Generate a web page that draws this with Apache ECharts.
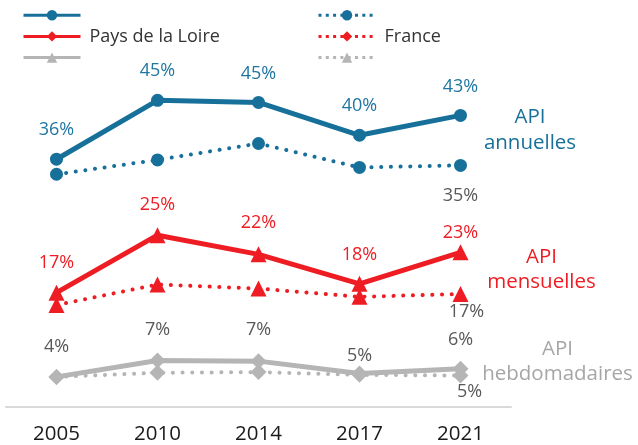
<!DOCTYPE html>
<html>
<head>
<meta charset="utf-8">
<script src="https://cdn.jsdelivr.net/npm/echarts@6/dist/echarts.min.js"></script>
<style>
    html, body { margin: 0; padding: 0; background: #fff; }
    #chart { width: 638px; height: 445px; }
</style>
</head>
<body>
<div id="chart"></div>
<script>
    const years = ['2005', '2010', '2014', '2017', '2021'];

    // Pays de la Loire (traits pleins)
    const pdlAnnuelles = [36.2, 44.8, 44.5, 39.7, 42.6];
    const pdlMensuelles = [16.7, 25.1, 22.3, 18.0, 22.6];
    const pdlHebdo = [4.4, 6.8, 6.7, 4.9, 5.6];

    // France (pointilles)
    const franceAnnuelles = [34.0, 36.1, 38.5, 35.0, 35.3];
    const franceMensuelles = [14.9, 17.9, 17.3, 16.1, 16.5];
    const franceHebdo = [4.4, 5.0, 5.1, 4.7, 4.6];

    const blue = '#17709a';
    const red = '#ee1d23';
    const grey = '#b5b5b5';
    const font = 'Open Sans';

    const legendText = {
        'PdL mensuelles': 'Pays de la Loire',
        'France mensuelles': 'France'
    };

    // decalage [x, y] de l'etiquette de chaque point, null = pas d'etiquette
    function makeData(values, symbol, offsets) {
        return values.map(function (v, i) {
            const item = { value: v, symbol: symbol };
            if (offsets[i]) {
                item.label = { show: true, offset: offsets[i] };
            }
            return item;
        });
    }

    function makeSeries(name, values, color, dotted, legendSymbol, pointSymbol, size, offsets, labelColor) {
        return {
            name: name,
            type: 'line',
            symbol: legendSymbol,     // symbole de la legende
            symbolSize: size,
            z: dotted ? 2 : 3,
            data: makeData(values, pointSymbol, offsets),
            itemStyle: { color: color },
            lineStyle: dotted
                ? { color: color, width: 4, type: [0.1, 9.6], cap: 'round' }
                : { color: color, width: 5 },
            label: {
                show: false,
                position: 'inside',
                formatter: function (p) { return Math.round(p.value) + '%'; },
                fontFamily: font,
                fontSize: 18,
                color: labelColor
            },
            emphasis: { disabled: true },
            animation: false
        };
    }

    const legendBase = {
        orient: 'vertical',
        top: 10,
        padding: 0,
        itemWidth: 57,
        itemHeight: 13,
        itemGap: 7,
        selectedMode: false,
        lineStyle: { width: 3 },
        formatter: function (name) { return legendText[name] || ''; },
        textStyle: { fontFamily: font, fontSize: 18, color: '#333', lineHeight: 13, padding: [0, 0, 0, 4] }
    };

    // pointilles plus serres dans la legende
    function dottedItem(name) {
        return { name: name, lineStyle: { width: 3, type: [3, 4.3], cap: 'butt' } };
    }

    const chart = echarts.init(document.getElementById('chart'));
    chart.setOption({
        animation: false,
        grid: { left: 6, right: 127, top: 10, bottom: 38 },
        legend: [
            Object.assign({}, legendBase, { left: 22, data: ['PdL annuelles', 'PdL mensuelles', 'PdL hebdomadaires'] }),
            Object.assign({}, legendBase, {
                left: 317,
                data: [dottedItem('France annuelles'), dottedItem('France mensuelles'), dottedItem('France hebdomadaires')]
            })
        ],
        xAxis: {
            type: 'category',
            data: years,
            axisLine: { lineStyle: { color: '#d9d9d9', width: 2 } },
            axisTick: { show: false },
            axisLabel: { fontFamily: font, fontSize: 20.5, color: '#1a1a1a', margin: 17 }
        },
        yAxis: {
            type: 'value',
            min: 0,
            max: 58,
            show: false,
            splitLine: { show: false }
        },
        graphic: [
            {
                type: 'text', x: 530, y: 130, silent: true,
                style: { text: 'API\nannuelles', fill: blue, fontFamily: font, fontSize: 20.5, lineHeight: 26,
                    textAlign: 'center', textVerticalAlign: 'middle', align: 'center', verticalAlign: 'middle' }
            },
            {
                type: 'text', x: 541.5, y: 269.5, silent: true,
                style: { text: 'API\nmensuelles', fill: red, fontFamily: font, fontSize: 20.5, lineHeight: 25,
                    textAlign: 'center', textVerticalAlign: 'middle', align: 'center', verticalAlign: 'middle' }
            },
            {
                type: 'text', x: 557.5, y: 361.5, silent: true,
                style: { text: 'API\nhebdomadaires', fill: '#a6a6a6', fontFamily: font, fontSize: 20.5, lineHeight: 25,
                    textAlign: 'center', textVerticalAlign: 'middle', align: 'center', verticalAlign: 'middle' }
            }
        ],
        series: [
            makeSeries('France annuelles', franceAnnuelles, blue, true, 'circle', 'circle', 13,
                [null, null, null, null, [0, 30]], '#595959'),
            makeSeries('France mensuelles', franceMensuelles, red, true, 'diamond', 'triangle', 16,
                [null, null, null, null, [6, 18]], '#595959'),
            makeSeries('France hebdomadaires', franceHebdo, grey, true, 'triangle', 'diamond', 16,
                [null, null, null, null, [9, 16]], '#595959'),
            makeSeries('PdL annuelles', pdlAnnuelles, blue, false, 'circle', 'circle', 13,
                [[0, -29], [0, -29], [0, -29], [0, -29], [0, -29]], '#1f76a2'),
            makeSeries('PdL mensuelles', pdlMensuelles, red, false, 'diamond', 'triangle', 16,
                [[0, -30], [0, -30], [0, -31], [0, -29], [0, -19]], red),
            makeSeries('PdL hebdomadaires', pdlHebdo, grey, false, 'triangle', 'diamond', 16,
                [[0, -30], [0, -31], [0, -31], [0, -18], [0, -29]], '#595959')
        ]
    });
</script>
</body>
</html>
